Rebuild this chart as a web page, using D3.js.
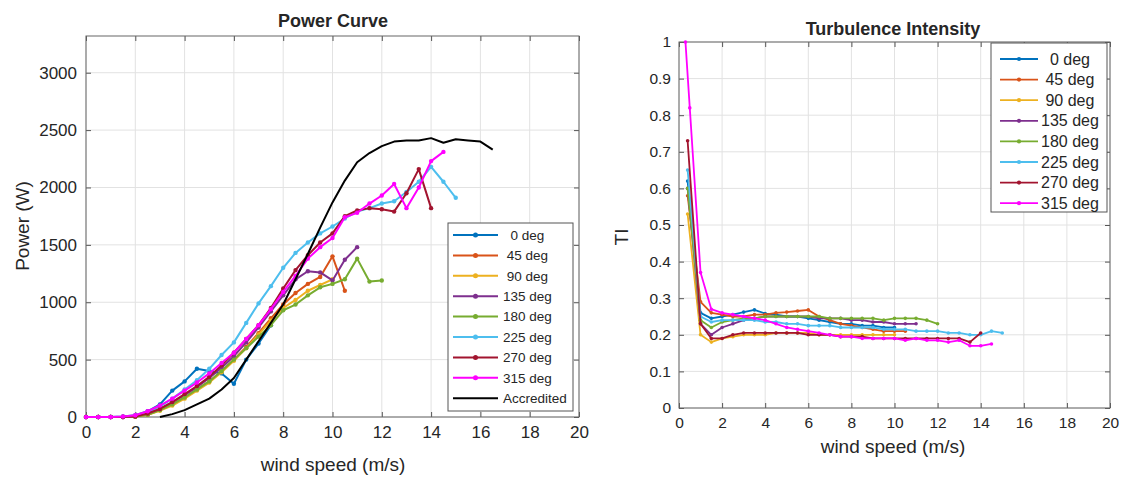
<!DOCTYPE html>
<html><head><meta charset="utf-8">
<script src="https://cdn.jsdelivr.net/npm/d3@7"></script>
<style>
body{margin:0;background:#fff}
svg{display:block}
text{font-family:"Liberation Sans",Arial,Helvetica,sans-serif;fill:#262626}
</style></head>
<body><svg id="c" width="1123" height="479"></svg>
<script>
// ---------------- DATA ----------------
const seriesNames = ["0 deg","45 deg","90 deg","135 deg","180 deg","225 deg","270 deg","315 deg"];
const legendLabels = ["  0 deg"," 45 deg"," 90 deg","135 deg","180 deg","225 deg","270 deg","315 deg"];
const seriesColors = ["#0072BD","#D95319","#EDB120","#7E2F8E","#77AC30","#4DBEEE","#A2142F","#FF00FF"];

// Power curve: wind speed bins (m/s) start at 0 with 0.5 m/s step
const powerWind = [0,0.5,1,1.5,2,2.5,3,3.5,4,4.5,5,5.5,6,6.5,7,7.5,8,8.5,9,9.5,10,10.5,11,11.5,12,12.5,13,13.5,14,14.5,15];
const power0   = [0,0,0,5,15,50,110,230,310,420,400,380,290,500,640,800];
const power45  = [0,0,0,0,5,20,60,110,170,240,310,400,500,610,730,860,980,1080,1160,1220,1400,1100];
const power90  = [0,0,0,0,5,20,55,100,160,230,300,390,490,600,720,840,950,1020,1100,1150,1200];
const power135 = [0,0,0,0,5,25,70,130,190,260,340,430,530,650,780,920,1060,1200,1270,1260,1190,1370,1480];
const power180 = [0,0,0,0,5,20,60,110,170,240,310,400,500,600,700,800,930,980,1060,1130,1160,1200,1380,1180,1190];
const power225 = [0,0,0,0,10,40,90,160,240,320,420,540,650,820,990,1140,1300,1430,1520,1600,1660,1730,1790,1820,1860,1880,1960,2050,2180,2050,1910];
const power270 = [0,0,0,0,5,30,70,130,200,270,350,450,560,680,800,950,1120,1280,1410,1520,1600,1750,1800,1820,1810,1790,1950,2160,1820];
const power315 = [0,0,0,5,15,50,100,160,230,300,380,470,560,680,800,940,1090,1230,1380,1480,1560,1740,1780,1860,1930,2030,1820,2000,2230,2310];
const accreditedWind  = [3,3.5,4,4.5,5,5.5,6,6.5,7,7.5,8,8.5,9,9.5,10,10.5,11,11.5,12,12.5,13,13.5,14,14.5,15,15.5,16,16.5];
const accreditedPower = [0,25,60,110,160,240,340,500,660,820,980,1200,1420,1650,1870,2060,2220,2300,2360,2400,2410,2410,2430,2390,2420,2410,2400,2330];

// Turbulence intensity
const tiWind  = [0.4,1,1.5,2,2.5,3,3.5,4,4.5,5,5.5,6,6.5,7,7.5,8,8.5,9,9.5,10,10.5,11,11.5,12,12.5,13,13.5,14,14.5,15];
const tiWind315 = [0.3,0.5,1,1.5,2,2.5,3,3.5,4,4.5,5,5.5,6,6.5,7,7.5,8,8.5,9,9.5,10,10.5,11,11.5,12,12.5,13,13.5,14,14.5];
const ti0   = [0.62,0.26,0.245,0.25,0.255,0.262,0.268,0.258,0.255,0.25,0.25,0.245,0.24,0.235,0.23,0.23,0.225,0.225,0.22,0.22];
const ti45  = [0.58,0.29,0.26,0.255,0.25,0.25,0.255,0.255,0.26,0.262,0.265,0.268,0.25,0.24,0.23,0.225,0.22,0.215,0.21,0.21,0.21];
const ti90  = [0.53,0.2,0.18,0.19,0.195,0.2,0.2,0.2,0.205,0.205,0.205,0.205,0.2,0.2,0.2,0.2,0.2,0.2,0.2,0.2];
const ti135 = [0.6,0.23,0.2,0.22,0.23,0.24,0.245,0.25,0.25,0.25,0.25,0.25,0.245,0.245,0.245,0.24,0.24,0.235,0.235,0.23,0.23,0.23];
const ti180 = [0.6,0.24,0.22,0.235,0.24,0.245,0.245,0.25,0.25,0.25,0.25,0.25,0.25,0.245,0.245,0.245,0.245,0.245,0.24,0.245,0.245,0.245,0.24,0.23];
const ti225 = [0.65,0.25,0.235,0.24,0.24,0.24,0.24,0.235,0.235,0.23,0.23,0.225,0.225,0.225,0.22,0.22,0.22,0.22,0.215,0.215,0.215,0.21,0.21,0.21,0.205,0.205,0.2,0.2,0.21,0.205];
const ti270 = [0.73,0.23,0.19,0.19,0.2,0.205,0.205,0.205,0.205,0.205,0.205,0.2,0.2,0.2,0.195,0.195,0.195,0.19,0.19,0.19,0.19,0.19,0.19,0.19,0.19,0.19,0.18,0.205];
const ti315 = [1.0,0.82,0.37,0.27,0.26,0.255,0.25,0.245,0.24,0.23,0.22,0.215,0.21,0.205,0.2,0.195,0.195,0.19,0.19,0.19,0.19,0.185,0.19,0.185,0.185,0.18,0.185,0.17,0.17,0.175];

const xTicks = [0,2,4,6,8,10,12,14,16,18,20];
const powerTicks = [0,500,1000,1500,2000,2500,3000];
const tiTicks = [0,0.1,0.2,0.3,0.4,0.5,0.6,0.7,0.8,0.9,1];

// ---------------- DRAW ----------------
const svg = d3.select("#c");

function zipXY(xs, ys){ return ys.map((v,i)=>({x:xs[i], y:v})); }

function drawPanel(o){
  const g = svg.append("g");
  const x = d3.scaleLinear().domain(o.xDomain).range([o.left, o.right]);
  const y = d3.scaleLinear().domain(o.yDomain).range([o.bottom, o.top]);
  // grid
  g.selectAll(".gx").data(o.xTicks).join("line")
    .attr("x1",d=>x(d)).attr("x2",d=>x(d)).attr("y1",o.top).attr("y2",o.bottom)
    .attr("stroke","#e2e2e2").attr("stroke-width",1);
  g.selectAll(".gy").data(o.yTicks).join("line")
    .attr("x1",o.left).attr("x2",o.right).attr("y1",d=>y(d)).attr("y2",d=>y(d))
    .attr("stroke","#e2e2e2").attr("stroke-width",1);
  // axes via d3
  const ax = d3.axisBottom(x).tickValues(o.xTicks).tickSize(-5).tickPadding(o.xPad).tickFormat(d3.format("d"));
  const axT = g.append("g").attr("transform",`translate(0,${o.bottom})`).call(ax);
  const ay = d3.axisLeft(y).tickValues(o.yTicks).tickSize(-5).tickPadding(o.yPad).tickFormat(o.yFmt);
  const ayT = g.append("g").attr("transform",`translate(${o.left},0)`).call(ay);
  const axTop = g.append("g").attr("transform",`translate(0,${o.top})`).call(d3.axisTop(x).tickValues(o.xTicks).tickSize(-5).tickFormat(""));
  const ayR = g.append("g").attr("transform",`translate(${o.right},0)`).call(d3.axisRight(y).tickValues(o.yTicks).tickSize(-5).tickFormat(""));
  [axT,ayT,axTop,ayR].forEach(a=>{
    a.select(".domain").remove();
    a.selectAll("line").attr("stroke","#555");
    a.selectAll("text").style("font-size",o.tickFont+"px").attr("fill","#262626").style("font-family",'"Liberation Sans",Arial,sans-serif');
  });
  // box
  g.append("rect").attr("x",o.left).attr("y",o.top).attr("width",o.right-o.left).attr("height",o.bottom-o.top)
    .attr("fill","none").attr("stroke","#666").attr("stroke-width",1);
  // series
  const line = d3.line().x(d=>x(d.x)).y(d=>y(d.y));
  o.series.forEach(s=>{
    const pts = zipXY(s.xs, s.ys);
    g.append("path").datum(pts).attr("d",line).attr("fill","none")
      .attr("stroke",s.color).attr("stroke-width",o.lw).attr("stroke-linejoin","round");
    if(s.marker){
      g.selectAll(null).data(pts).join("circle").attr("cx",d=>x(d.x)).attr("cy",d=>y(d.y))
        .attr("r",o.mr).attr("fill",s.color);
    }
  });
  // title & labels
  svg.append("text").attr("x",o.titleX).attr("y",o.titleY).attr("text-anchor","middle")
    .style("font-size",o.titleFont+"px").style("font-weight","bold").attr("fill","#000").text(o.title);
  svg.append("text").attr("x",o.xLabelX).attr("y",o.xLabelY).attr("text-anchor","middle")
    .style("font-size",o.labelFont+"px").text(o.xLabel);
  svg.append("text").attr("transform",`translate(${o.yLabelX},${o.yLabelY}) rotate(-90)`).attr("text-anchor","middle")
    .style("font-size",o.labelFont+"px").text(o.yLabel);
  // legend
  const L = o.legend;
  const lg = svg.append("g");
  lg.append("rect").attr("x",L.x0).attr("y",L.y0).attr("width",L.x1-L.x0).attr("height",L.y1-L.y0)
    .attr("fill","#fff").attr("stroke","#555").attr("stroke-width",1);
  L.items.forEach((it,i)=>{
    const yy = L.firstY + i*L.step;
    lg.append("line").attr("x1",L.lx0).attr("x2",L.lx1).attr("y1",yy).attr("y2",yy)
      .attr("stroke",it.color).attr("stroke-width",o.lw);
    if(it.marker) lg.append("circle").attr("cx",(L.lx0+L.lx1)/2).attr("cy",yy).attr("r",o.mr+0.3).attr("fill",it.color);
    lg.append("text").attr("x",L.tx).attr("y",yy).attr("dy","0.35em").attr("xml:space","preserve")
      .style("white-space","pre").style("font-size",L.font+"px").text(it.label);
  });
}

const powerSeries = [power0,power45,power90,power135,power180,power225,power270,power315].map((ys,i)=>({
  xs: powerWind, ys, color: seriesColors[i], marker:true, label: legendLabels[i]
}));
powerSeries.push({xs:accreditedWind, ys:accreditedPower, color:"#000", marker:false, label:"Accredited"});

const tiArr = [ti0,ti45,ti90,ti135,ti180,ti225,ti270,ti315];
const tiSeries = tiArr.map((ys,i)=>({
  xs: i===7 ? tiWind315 : tiWind, ys, color: seriesColors[i], marker:true, label: legendLabels[i]
}));

drawPanel({
  left:86, right:579, top:36, bottom:417, xDomain:[0,20], yDomain:[0,3320],
  xTicks, yTicks:powerTicks, yFmt:d3.format("d"), xPad:9, yPad:9, tickFont:17,
  lw:2, mr:2.2, series:powerSeries,
  title:"Power Curve", titleX:333, titleY:27, titleFont:18,
  xLabel:"wind speed (m/s)", xLabelX:333, xLabelY:471, labelFont:19,
  yLabel:"Power (W)", yLabelX:29, yLabelY:226,
  legend:{x0:448,x1:573,y0:223,y1:411,firstY:235,step:20.4,lx0:453,lx1:498,tx:503,font:13.5,items:powerSeries}
});

drawPanel({
  left:679, right:1110, top:42, bottom:408, xDomain:[0,20], yDomain:[0,1],
  xTicks, yTicks:tiTicks, yFmt:d=>d3.format("")(+d.toFixed(1)), xPad:9, yPad:8, tickFont:15.5,
  lw:1.8, mr:1.8, series:tiSeries,
  title:"Turbulence Intensity", titleX:893, titleY:35, titleFont:18,
  xLabel:"wind speed (m/s)", xLabelX:893, xLabelY:453, labelFont:19,
  yLabel:"TI", yLabelX:628, yLabelY:237,
  legend:{x0:991,x1:1107,y0:43,y1:212,firstY:59,step:20.6,lx0:1000,lx1:1038,tx:1041,font:16,items:tiSeries}
});
</script>
</body></html>
